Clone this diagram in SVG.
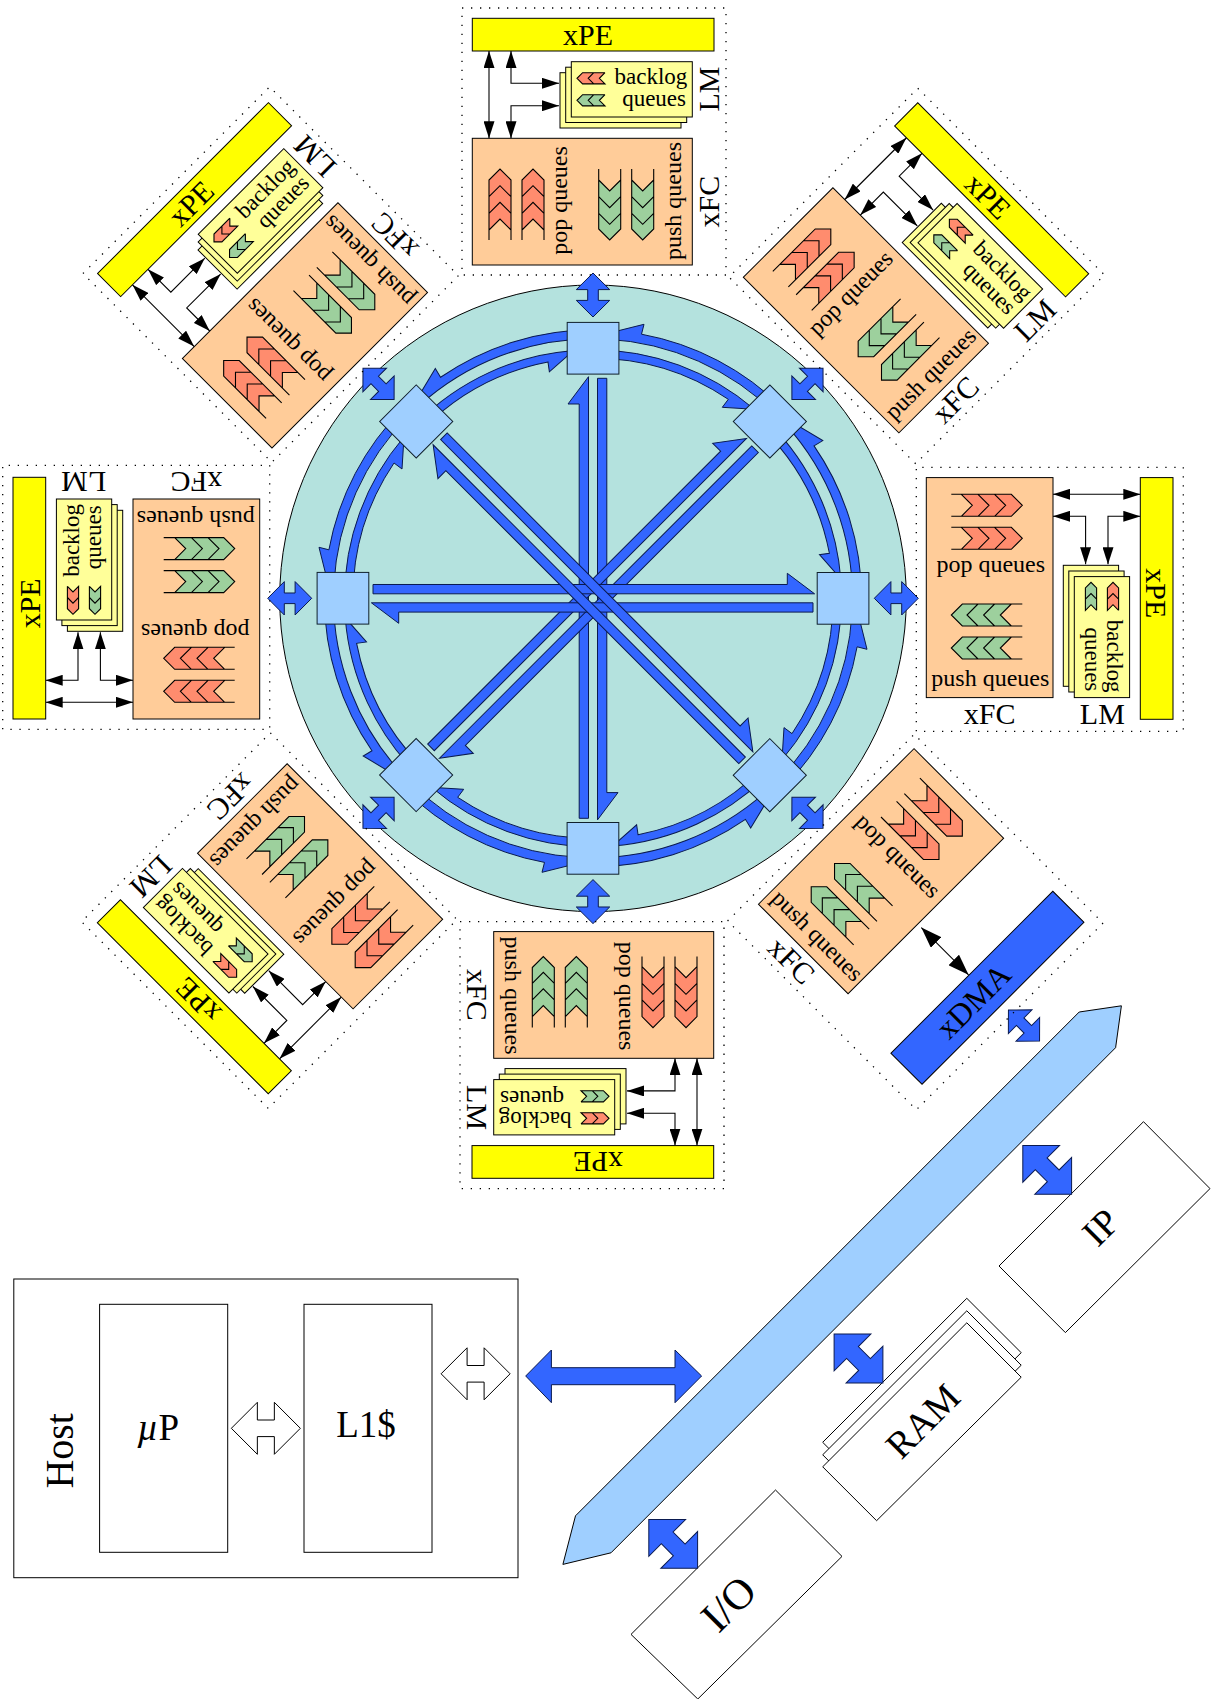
<svg xmlns="http://www.w3.org/2000/svg" width="1215" height="1699" viewBox="0 0 1215 1699">
<style>
text{font-family:"Liberation Serif","Times New Roman",serif;fill:#000}
.q{font-size:24px}
.r{font-size:23px}
.b{font-size:30px}
.c{text-anchor:middle}
.e{text-anchor:end}
.s{stroke:#000;stroke-width:1;stroke-linejoin:miter}
.box{fill:#fff;stroke:#000;stroke-width:1}
.fc{fill:#ffcc99;stroke:#000;stroke-width:1}
.lm{fill:#ffff99;stroke:#000;stroke-width:1}
.pe{fill:#ffff00;stroke:#000;stroke-width:1}
.red{fill:#ff8c6e}
.grn{fill:#9dd09d}
.ln{fill:none;stroke:#000;stroke-width:1.1}
.blue{fill:#3366ff;stroke:#0a1a50;stroke-width:1}
.white{fill:#fff;stroke:#000;stroke-width:1}
.router{fill:#9fcfff;stroke:#10202c;stroke-width:1}
.dot{fill:none;stroke:#000;stroke-width:1.3;stroke-dasharray:1.3 7.7}
.arr{fill:none;stroke:#000;stroke-width:1.1;marker-start:url(#ah);marker-end:url(#ah)}
.arr2{fill:none;stroke:#000;stroke-width:1.1;marker-start:url(#ahb);marker-end:url(#ahb)}
</style>
<defs>
<marker id="ah" viewBox="0 0 17 11" refX="17" refY="5.5" markerWidth="17" markerHeight="11" markerUnits="userSpaceOnUse" orient="auto-start-reverse"><path d="M0 0L17 5.5L0 11Z" fill="#000"/></marker>
<marker id="ahb" viewBox="0 0 21 15" refX="21" refY="7.5" markerWidth="21" markerHeight="15" markerUnits="userSpaceOnUse" orient="auto-start-reverse"><path d="M0 0L21 7.5L0 15Z" fill="#000"/></marker>
<polygon id="dbl" points="-34.5,0 -8.5,-26 -8.5,-8.3 8.5,-8.3 8.5,-26 34.5,0 8.5,26 8.5,8.3 -8.5,8.3 -8.5,26"/>
<polygon id="dblS" class="blue" points="-22,0 -5.4,-16.7 -5.4,-5.3 5.4,-5.3 5.4,-16.7 22,0 5.4,16.7 5.4,5.3 -5.4,5.3 -5.4,16.7"/>
<polygon id="spoke" class="blue" points="-4.5,-221.6 -25,-194.3 -13.8,-194.3 -13.8,220 -4.5,220"/>
<path id="arcOut" class="blue" d="M189.9 -189.9A268.5 268.5 0 0 0 48.5 -264.1L51 -274L15 -265L13.6 -259.1A259.5 259.5 0 0 1 183.5 -183.5Z"/>
<path id="arcIn" class="blue" d="M0 -248.5A248.5 248.5 0 0 1 161.4 -189L129.3 -191L135.3 -199A240 240 0 0 0 0 -240Z"/>
<g id="pop">
<polygon class="red" points="0,11 11,0 22,11 22,61 11,50 0,61"/>
<path class="ln" d="M0 71V11L11 0L22 11V71M0 27.7L11 16.7L22 27.7M0 44.3L11 33.3L22 44.3M0 61L11 50L22 61"/>
</g>
<g id="push">
<polygon class="grn" points="0,11 11,22 22,11 22,60 11,71 0,60"/>
<path class="ln" d="M0 0V60L11 71L22 60V0M0 11L11 22L22 11M0 27.7L11 38.7L22 27.7M0 44.3L11 55.3L22 44.3"/>
</g>
<path id="chev" d="M0 0L5.6 -5.6H28L22.4 0L28 5.6H5.6Z"/>
<path id="chevL" class="ln" d="M28 -5.6H5.6L0 0L5.6 5.6H28L22.4 0L28 -5.6M16.8 -5.6L11.2 0L16.8 5.6"/>
<g id="fcShapes">
<path class="dot" d="M462 8H726V275H462Z"/>
<rect class="fc" x="472.3" y="138.3" width="220" height="126.7"/>
<use href="#pop" x="489" y="169"/><use href="#pop" x="522" y="169"/>
<use href="#push" x="598.7" y="169"/><use href="#push" x="631.7" y="169"/>
</g>
<g id="peShapes">
<rect class="pe" x="472.3" y="18.3" width="241.7" height="32.7"/>
<rect class="lm" x="560" y="72.7" width="121" height="55.3"/>
<rect class="lm" x="565.7" y="67.2" width="121" height="55.3"/>
<rect class="lm" x="571.3" y="61.7" width="121" height="55.3"/>
<use href="#chev" class="red" x="577" y="78.3"/><use href="#chevL" x="577" y="78.3"/>
<use href="#chev" class="grn" x="577" y="100.3"/><use href="#chevL" x="577" y="100.3"/>
</g>
<g id="peArrows">
<path class="arr" d="M489 51V138.3"/>
<path class="arr" d="M511 51V83.3H559"/>
<path class="arr" d="M511 138.3V105.7H559"/>
</g>
</defs>

<g id="ring-disc"><circle cx="593" cy="598.3" r="313.3" fill="#b4e2de" stroke="#000" stroke-width="1"/></g>

<g id="host"><rect class="box" x="13.8" y="1279" width="504.2" height="298.7"/><text font-size="40" class="c" transform="rotate(-90 73.5 1450.8)" x="73.5" y="1450.8">Host</text></g>
<g id="up"><rect class="box" x="99.6" y="1304.3" width="128.1" height="248"/><text font-size="37" class="c" x="158" y="1440"><tspan font-style="italic">µ</tspan>P</text></g>
<g id="l1"><rect class="box" x="304" y="1304.3" width="128" height="248"/><text font-size="37" class="c" x="366" y="1436.7">L1$</text></g>
<g id="bus"><polygon points="1079.2,1012 1121.4,1005.8 1115.6,1047.7 611,1552.8 562.9,1564.4 575.5,1515.8" fill="#9fcfff" stroke="#000" stroke-width="1"/></g>
<g id="ip"><polygon class="box" points="1143.5,1121.7 1210,1188.6 1065.4,1332.6 999,1266"/><text font-size="38" class="c" transform="translate(1100.9 1227.4) rotate(-45)" y="12.5">IP</text></g>
<g id="ram">
<polygon class="box" points="966.8,1298.3 1021.2,1352.7 876.6,1496.2 822.7,1442.3"/>
<polygon class="box" points="966.8,1310.8 1021.2,1365.2 876.6,1508.7 822.7,1454.8"/>
<polygon class="box" points="966.8,1322.8 1021.2,1377.2 876.6,1520.7 822.7,1466.8"/>
<text font-size="38" class="c" transform="translate(923 1421.3) rotate(-45)" y="12.5">RAM</text></g>
<g id="io"><polygon class="box" points="775.5,1490 842,1556.4 697.8,1699 631,1634.4"/><text font-size="43" class="c" transform="translate(728.8 1604) rotate(-45)" y="14">I/O</text></g>

<g id="connectors">
<use href="#spoke" transform="translate(593 598.3)"/>
<use href="#spoke" transform="translate(593 598.3) rotate(180)"/>
<use href="#spoke" transform="translate(593 598.3) rotate(45)"/>
<use href="#spoke" transform="translate(593 598.3) rotate(225)"/>
<use href="#spoke" transform="translate(593 598.3) rotate(90)"/>
<use href="#spoke" transform="translate(593 598.3) rotate(270)"/>
<use href="#spoke" transform="translate(593 598.3) rotate(135)"/>
<use href="#spoke" transform="translate(593 598.3) rotate(315)"/>
<use href="#arcOut" transform="translate(593 598.3)"/><use href="#arcIn" transform="translate(593 598.3)"/>
<use href="#arcOut" transform="translate(593 598.3) rotate(45)"/><use href="#arcIn" transform="translate(593 598.3) rotate(45)"/>
<use href="#arcOut" transform="translate(593 598.3) rotate(90)"/><use href="#arcIn" transform="translate(593 598.3) rotate(90)"/>
<use href="#arcOut" transform="translate(593 598.3) rotate(135)"/><use href="#arcIn" transform="translate(593 598.3) rotate(135)"/>
<use href="#arcOut" transform="translate(593 598.3) rotate(180)"/><use href="#arcIn" transform="translate(593 598.3) rotate(180)"/>
<use href="#arcOut" transform="translate(593 598.3) rotate(225)"/><use href="#arcIn" transform="translate(593 598.3) rotate(225)"/>
<use href="#arcOut" transform="translate(593 598.3) rotate(270)"/><use href="#arcIn" transform="translate(593 598.3) rotate(270)"/>
<use href="#arcOut" transform="translate(593 598.3) rotate(315)"/><use href="#arcIn" transform="translate(593 598.3) rotate(315)"/>
<use href="#dblS" transform="translate(593 598.3) rotate(0) translate(0 -303.3) rotate(90)"/>
<use href="#dblS" transform="translate(593 598.3) rotate(45) translate(0 -303.3) rotate(90)"/>
<use href="#dblS" transform="translate(593 598.3) rotate(90) translate(0 -303.3) rotate(90)"/>
<use href="#dblS" transform="translate(593 598.3) rotate(135) translate(0 -303.3) rotate(90)"/>
<use href="#dblS" transform="translate(593 598.3) rotate(180) translate(0 -303.3) rotate(90)"/>
<use href="#dblS" transform="translate(593 598.3) rotate(225) translate(0 -303.3) rotate(90)"/>
<use href="#dblS" transform="translate(593 598.3) rotate(270) translate(0 -303.3) rotate(90)"/>
<use href="#dblS" transform="translate(593 598.3) rotate(315) translate(0 -303.3) rotate(90)"/>
<use href="#dblS" transform="translate(1024 1025.5) rotate(45)"/>
<use href="#dbl" class="white" transform="translate(265.85 1428.3)"/>
<use href="#dbl" class="white" transform="translate(475.6 1373.8)"/>
<polygon class="blue" points="525.7,1376 551.4,1350 551.4,1367.7 675,1367.7 675,1350 701.6,1376 675,1402.7 675,1384.7 551.4,1384.7 551.4,1402.7"/>
<use href="#dbl" class="blue" transform="translate(1047.2 1169.8) rotate(45)"/>
<use href="#dbl" class="blue" transform="translate(858.5 1358.5) rotate(45)"/>
<use href="#dbl" class="blue" transform="translate(673.2 1543.9) rotate(45)"/>
<use href="#peArrows" transform="rotate(0 593 598.3)"/>
<use href="#peArrows" transform="rotate(45 593 598.3)"/>
<use href="#peArrows" transform="rotate(90 593 598.3)"/>
<use href="#peArrows" transform="rotate(180 593 598.3)"/>
<use href="#peArrows" transform="rotate(225 593 598.3)"/>
<use href="#peArrows" transform="rotate(270 593 598.3)"/>
<use href="#peArrows" transform="rotate(315 593 598.3)"/>
<path class="arr2" transform="rotate(135 593 598.3)" d="M593.7 66.5V133.3"/>
</g>

<g id="router-0"><rect class="router" x="567.2" y="322.4" width="51.7" height="51.7" transform="rotate(0 593 598.3)"/></g>
<g id="router-1"><rect class="router" x="567.2" y="322.4" width="51.7" height="51.7" transform="rotate(45 593 598.3)"/></g>
<g id="router-2"><rect class="router" x="567.2" y="322.4" width="51.7" height="51.7" transform="rotate(90 593 598.3)"/></g>
<g id="router-3"><rect class="router" x="567.2" y="322.4" width="51.7" height="51.7" transform="rotate(135 593 598.3)"/></g>
<g id="router-4"><rect class="router" x="567.2" y="322.4" width="51.7" height="51.7" transform="rotate(180 593 598.3)"/></g>
<g id="router-5"><rect class="router" x="567.2" y="322.4" width="51.7" height="51.7" transform="rotate(225 593 598.3)"/></g>
<g id="router-6"><rect class="router" x="567.2" y="322.4" width="51.7" height="51.7" transform="rotate(270 593 598.3)"/></g>
<g id="router-7"><rect class="router" x="567.2" y="322.4" width="51.7" height="51.7" transform="rotate(315 593 598.3)"/></g>

<g id="tile-0" transform="rotate(0 593 598.3)">
<use href="#fcShapes"/><use href="#peShapes"/>
<text class="b c" x="588" y="45">xPE</text>
<text class="b c" transform="rotate(-90 719 89)" x="719" y="89">LM</text>
<text class="b c" transform="rotate(-90 719 201.7)" x="719" y="201.7">xFC</text>
<text class="q c" transform="rotate(-90 567 200.5)" x="567" y="200.5">pop queues</text>
<text class="q c" transform="rotate(-90 680.7 201)" x="680.7" y="201">push queues</text>
<text class="r e" x="687.3" y="84.3">backlog</text>
<text class="r e" x="686" y="106">queues</text>
</g>
<g id="tile-1" transform="rotate(45 593 598.3)">
<use href="#fcShapes"/><use href="#peShapes"/>
<text class="b c" x="588" y="45">xPE</text>
<text class="b c" transform="rotate(-90 719 89)" x="719" y="89">LM</text>
<text class="b c" transform="rotate(-90 719 201.7)" x="719" y="201.7">xFC</text>
<text class="q c" transform="rotate(-90 567 200.5)" x="567" y="200.5">pop queues</text>
<text class="q c" transform="rotate(-90 680.7 201)" x="680.7" y="201">push queues</text>
<text class="r e" x="687.3" y="84.3">backlog</text>
<text class="r e" x="686" y="106">queues</text>
</g>
<g id="tile-2" transform="rotate(90 593 598.3)">
<use href="#fcShapes"/><use href="#peShapes"/>
<text class="b c" x="588" y="45">xPE</text>
<text class="b c" transform="rotate(-90 719 89)" x="719" y="89">LM</text>
<text class="b c" transform="rotate(-90 719 201.7)" x="719" y="201.7">xFC</text>
<text class="q c" transform="rotate(-90 567 200.5)" x="567" y="200.5">pop queues</text>
<text class="q c" transform="rotate(-90 680.7 201)" x="680.7" y="201">push queues</text>
<text class="r e" x="687.3" y="84.3">backlog</text>
<text class="r e" x="686" y="106">queues</text>
</g>
<g id="tile-3" transform="rotate(135 593 598.3)">
<use href="#fcShapes"/>
<rect x="475" y="22" width="229" height="44" fill="#3366ff" stroke="#000" stroke-width="1"/>
<text class="b c" transform="rotate(-90 719 201.7)" x="719" y="201.7">xFC</text>
<text class="q c" transform="rotate(-90 567 200.5)" x="567" y="200.5">pop queues</text>
<text class="q c" transform="rotate(-90 680.7 201)" x="680.7" y="201">push queues</text>
</g>
<g id="xdma-label"><text font-size="32" class="c" transform="translate(974 1001.7) rotate(-45)" y="10">xDMA</text></g>
<g id="tile-4" transform="rotate(180 593 598.3)">
<use href="#fcShapes"/><use href="#peShapes"/>
<text class="b c" x="588" y="45">xPE</text>
<text class="b c" transform="rotate(-90 719 89)" x="719" y="89">LM</text>
<text class="b c" transform="rotate(-90 719 201.7)" x="719" y="201.7">xFC</text>
<text class="q c" transform="rotate(-90 567 200.5)" x="567" y="200.5">pop queues</text>
<text class="q c" transform="rotate(-90 680.7 201)" x="680.7" y="201">push queues</text>
<text class="r e" x="687.3" y="84.3">backlog</text>
<text class="r e" x="686" y="106">queues</text>
</g>
<g id="tile-5" transform="rotate(225 593 598.3)">
<use href="#fcShapes"/><use href="#peShapes"/>
<text class="b c" x="588" y="45">xPE</text>
<text class="b c" transform="rotate(-90 719 89)" x="719" y="89">LM</text>
<text class="b c" transform="rotate(-90 719 201.7)" x="719" y="201.7">xFC</text>
<text class="q c" transform="rotate(-90 567 200.5)" x="567" y="200.5">pop queues</text>
<text class="q c" transform="rotate(-90 680.7 201)" x="680.7" y="201">push queues</text>
<text class="r e" x="687.3" y="84.3">backlog</text>
<text class="r e" x="686" y="106">queues</text>
</g>
<g id="tile-6" transform="rotate(270 593 598.3)">
<use href="#fcShapes"/><use href="#peShapes"/>
<text class="b c" x="588" y="45">xPE</text>
<text class="b c" transform="rotate(-90 719 89)" x="719" y="89">LM</text>
<text class="b c" transform="rotate(-90 719 201.7)" x="719" y="201.7">xFC</text>
<text class="q c" transform="rotate(-90 567 200.5)" x="567" y="200.5">pop queues</text>
<text class="q c" transform="rotate(-90 680.7 201)" x="680.7" y="201">push queues</text>
<text class="r e" x="687.3" y="84.3">backlog</text>
<text class="r e" x="686" y="106">queues</text>
</g>
<g id="tile-7" transform="rotate(315 593 598.3)">
<use href="#fcShapes"/><use href="#peShapes"/>
<text class="b c" x="588" y="45">xPE</text>
<text class="b c" transform="rotate(-90 719 89)" x="719" y="89">LM</text>
<text class="b c" transform="rotate(-90 719 201.7)" x="719" y="201.7">xFC</text>
<text class="q c" transform="rotate(-90 567 200.5)" x="567" y="200.5">pop queues</text>
<text class="q c" transform="rotate(-90 680.7 201)" x="680.7" y="201">push queues</text>
<text class="r e" x="687.3" y="84.3">backlog</text>
<text class="r e" x="686" y="106">queues</text>
</g>
</svg>
